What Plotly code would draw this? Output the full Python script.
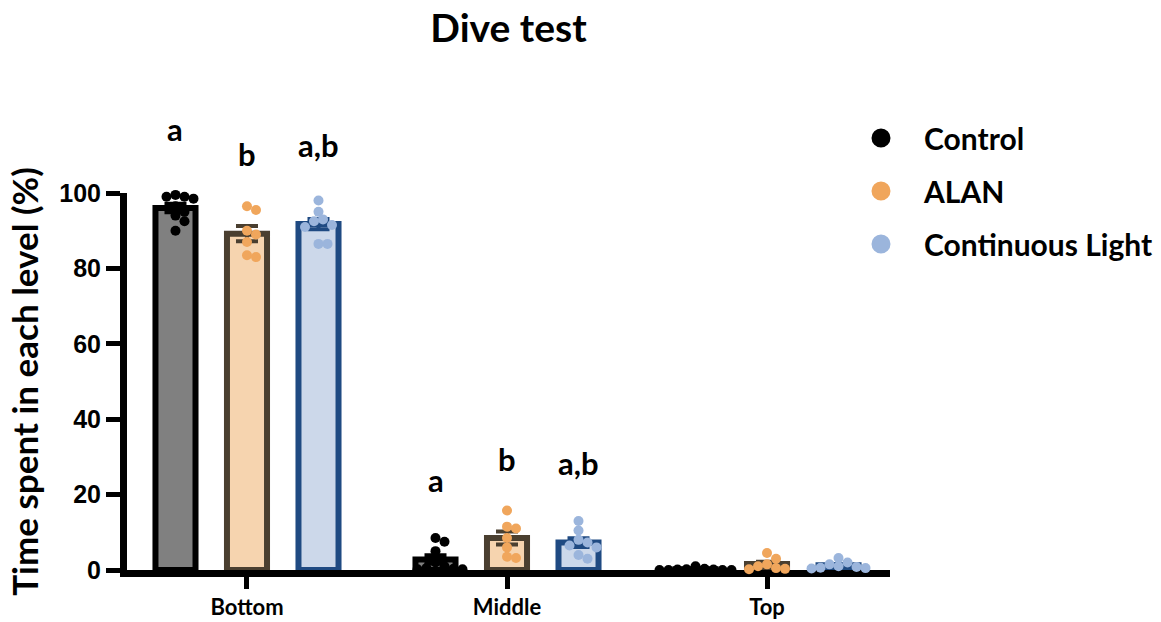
import numpy as np
import plotly.graph_objects as go

# ---- data -------------------------------------------------------------
levels = ["Bottom", "Middle", "Top"]
groups = ["Control", "ALAN", "Continuous Light"]

control_vals = [
    [99.5, 99.0, 99.0, 98.5, 96.5, 95.0, 94.0, 92.5, 90.0],   # Bottom
    [8.5, 7.5, 5.0, 2.0, 1.0, 0.5, 0.3, 0.2, 0.2],            # Middle
    [1.0, 0.3, 0.2, 0.1, 0.1, 0.0, 0.0, 0.0, 0.0],            # Top
]
alan_vals = [
    [96.5, 95.5, 90.0, 89.0, 87.0, 83.5, 83.0],
    [15.8, 11.5, 11.0, 8.5, 6.0, 3.5, 3.2],
    [4.5, 3.0, 1.5, 1.0, 0.5, 0.3, 0.2],
]
cl_vals = [
    [98.0, 95.0, 93.0, 92.5, 91.5, 91.0, 86.5, 86.5],
    [13.0, 10.5, 8.0, 7.3, 6.5, 6.0, 4.0, 3.0],
    [3.2, 2.0, 1.5, 1.0, 0.8, 0.6, 0.5, 0.4],
]

# significance letters per level (Bottom, Middle, Top)
sig_letters = {
    "Control": ["a", "a", ""],
    "ALAN": ["b", "b", ""],
    "Continuous Light": ["a,b", "a,b", ""],
}

y_ticks = [0, 20, 40, 60, 80, 100]

# ---- styling ----------------------------------------------------------
styles = {
    "Control": dict(fill="#808080", edge="#000000", dot="#000000"),
    "ALAN": dict(fill="#F6D4AF", edge="#4A3F30", dot="#F0A65C"),
    "Continuous Light": dict(fill="#CCD8EA", edge="#1F4A82", dot="#9BB5DC"),
}
series = {"Control": control_vals, "ALAN": alan_vals, "Continuous Light": cl_vals}

W, H = 1161, 622
M_L, M_R, M_T, M_B = 127, 271, 193, 52
plot_w = W - M_L - M_R
plot_h = H - M_T - M_B
x_range = [-0.4615, 2.473]
y_range = [0, 100]
px_per_x = plot_w / (x_range[1] - x_range[0])
px_per_y = plot_h / (y_range[1] - y_range[0])

slot = 0.275          # spacing of bars within a level
bar_w = 0.154         # bar width in axis units
dot_size = 10
letter_gap = 15.5     # gap between bar mean and its letter, in % units


def swarm(vals, min_dist=8.0, step=4.5):
    """Spread points sideways so they don't pile on each other."""
    placed = []
    offs = []
    for v in vals:
        cands = [0.0]
        for j in range(1, 40):
            cands += [j * step, -j * step]
        for c in cands:
            ok = all(np.hypot(c - px, (v - pv) * px_per_y) >= min_dist for px, pv in placed)
            if ok:
                placed.append((c, v))
                offs.append(c / px_per_x)
                break
    return offs


def y_to_paper(v):
    return (v - y_range[0]) / (y_range[1] - y_range[0])


fig = go.Figure()
annotations = []

for gi, name in enumerate(groups):
    st = styles[name]
    vals = series[name]
    means = [float(np.mean(v)) for v in vals]
    sems = [float(np.std(v, ddof=1) / np.sqrt(len(v))) for v in vals]
    xs = [li + (gi - 1) * slot for li in range(len(levels))]

    fig.add_trace(go.Bar(
        x=xs, y=means, width=bar_w,
        marker=dict(color=st["fill"], line=dict(color=st["edge"], width=6)),
        error_y=dict(type="data", array=sems, visible=True,
                     color=st["edge"], thickness=4, width=11),
        showlegend=False, hoverinfo="skip",
    ))

    dx, dy = [], []
    for li, v in enumerate(vals):
        offs = swarm(v)
        dx += [xs[li] + o for o in offs]
        dy += list(v)
    fig.add_trace(go.Scatter(
        x=dx, y=dy, mode="markers",
        marker=dict(color=st["dot"], size=dot_size),
        showlegend=False, cliponaxis=False, hoverinfo="skip",
    ))

    # legend entry
    fig.add_trace(go.Scatter(
        x=[None], y=[None], mode="markers", name=name,
        marker=dict(color=st["dot"], size=16, line=dict(color=st["dot"], width=3)),
        legendgroup=name,
    ))

    for li, letter in enumerate(sig_letters[name]):
        if letter:
            annotations.append(dict(
                x=xs[li], y=y_to_paper(means[li] + letter_gap), xref="x", yref="paper",
                text=letter, showarrow=False, yanchor="bottom",
                font=dict(family="Lato", size=31, color="black", weight="bold"),
            ))

fig.update_layout(
    width=W, height=H,
    margin=dict(l=M_L, r=M_R, t=M_T, b=M_B, autoexpand=False),
    paper_bgcolor="white", plot_bgcolor="white",
    barmode="overlay",
    title=dict(text="<b>Dive test</b>", x=(M_L + plot_w / 2) / W, xanchor="center",
               y=1 - 28 / H, yanchor="middle",
               font=dict(family="Lato", size=39, color="black")),
    annotations=annotations,
    legend=dict(
        x=(838 - M_L) / plot_w, xanchor="left", y=1 + (193 - 112) / plot_h, yanchor="top",
        font=dict(family="Lato", size=30, color="black", weight="bold"),
        tracegroupgap=11, itemwidth=76, bgcolor="rgba(0,0,0,0)",
    ),
    xaxis=dict(
        range=x_range, tickvals=list(range(len(levels))), ticktext=levels,
        showline=True, linewidth=7, linecolor="black",
        ticks="outside", ticklen=12, tickwidth=5, tickcolor="black",
        tickfont=dict(family="Lato", size=22, color="black", weight="bold"),
        showgrid=False, zeroline=False, layer="below traces",
    ),
    yaxis=dict(
        range=y_range, tickvals=y_ticks,
        showline=True, linewidth=7, linecolor="black",
        ticks="outside", ticklen=14, tickwidth=5, tickcolor="black",
        tickfont=dict(family="Liberation Sans", size=25, color="black", weight="bold"),
        showgrid=False, zeroline=False, layer="below traces",
        title=dict(text="<b>Time spent in each level (%)</b>", standoff=13,
                   font=dict(family="Lato", size=35, color="black")),
    ),
)

fig.write_html("out.html")
